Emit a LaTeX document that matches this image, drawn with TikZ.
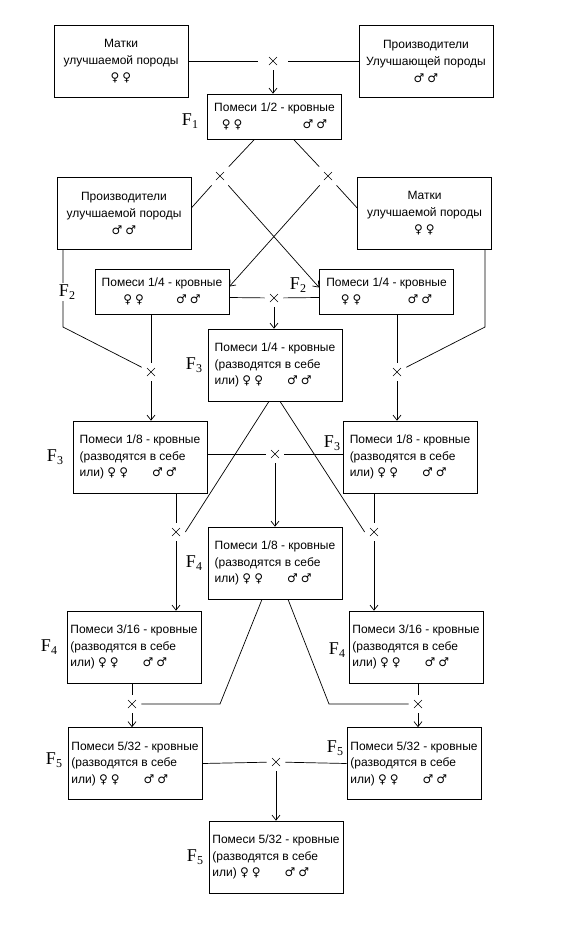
\documentclass[tikz,border=0pt]{standalone}
\usepackage{fontspec}
\setmainfont{Liberation Sans}
\newfontfamily\gsymfont{DejaVu Sans}
\newfontfamily\gserif{Liberation Serif}
\usetikzlibrary{arrows.meta}

\newcommand{\samki}{{\gsymfont\fontsize{12}{12}\selectfont ♀\kern3pt♀}}
\newcommand{\samcy}{{\gsymfont\fontsize{12}{12}\selectfont ♂\kern3pt♂}}
\newcommand{\Fgen}[1]{{\gserif\fontsize{18}{18}\selectfont F\raisebox{-3pt}{\fontsize{12}{12}\selectfont #1}}}

\begin{document}
\begin{tikzpicture}[
		x=1pt, y=-1pt,
		line width=0.7pt,
		>={Straight Barb[length=5pt,width=8pt]},
		pbox/.style={draw, rectangle, align=center, minimum width=134, minimum height=72,
			inner sep=0pt, font=\fontsize{12}{17}\selectfont},
		hbox/.style={draw, rectangle, align=center, minimum width=134, minimum height=45,
			inner sep=0pt, font=\fontsize{12}{17}\selectfont},
		fbox/.style={draw, rectangle, align=left, minimum width=134, minimum height=72,
			inner sep=0pt, font=\fontsize{12}{16.5}\selectfont},
		xx/.style={rectangle, minimum size=18, inner sep=0pt,
			path picture={\draw[line width=0.6pt] (-4pt,-4pt) -- (4pt,4pt) (-4pt,4pt) -- (4pt,-4pt);}},
		gen/.style={inner sep=2pt},
%		gen/.style={fill=white, inner sep=2pt},
		]
		\useasboundingbox (0,0) rectangle (562,938);

		% parents
		\node[pbox] (matkiA) at (121,61) {Матки\\улучшаемой породы\\\samki};
		\node[pbox] (proizB) at (426,61) {Производители\\Улучшающей породы\\\samcy};
		\node[xx] (xA) at (273,61) {};
		\node[hbox] (f1) at (274.5,116.5) {Помеси 1/2 - кровные\\\samki\hspace{60pt}\samcy};
		\node[gen] (g1) at (190,121) {\Fgen{1}};

		\node[xx] (x1) at (220,176) {};
		\node[xx] (x2) at (328,176) {};
		\node[pbox] (proizC) at (124,213) {Производители\\улучшаемой породы\\\samcy};
		\node[pbox] (matkiD) at (424.5,213) {Матки\\улучшаемой породы\\\samki};

		\node[hbox] (f2a) at (162,291.5) {Помеси 1/4 - кровные\\\samki\hspace{32pt}\samcy};
		\node[hbox] (f2b) at (386.5,291.5) {Помеси 1/4 - кровные\\\samki\hspace{46pt}\samcy};
		\node[xx] (x2m) at (274,298) {};
		\node[gen] (g2b) at (298,285) {\Fgen{2}};

		\node[fbox] (f3) at (275,365) {Помеси 1/4 - кровные\\(разводятся в себе\\или) \samki\hspace{24pt}\samcy};
		\node[gen] (g3) at (194,365) {\Fgen{3}};
		\node[xx] (x3a) at (151,372) {};
		\node[xx] (x3b) at (397,372) {};

		\node[fbox] (f3a) at (140,457) {Помеси 1/8 - кровные\\(разводятся в себе\\или) \samki\hspace{24pt}\samcy};
		\node[fbox] (f3b) at (410,457) {Помеси 1/8 - кровные\\(разводятся в себе\\или) \samki\hspace{24pt}\samcy};
		\node[gen] (g3a) at (55,457) {\Fgen{3}};
		\node[gen] (g3b) at (332,443) {\Fgen{3}};
		\node[xx] (x3m) at (275,454) {};

		\node[xx] (x4a) at (176,532) {};
		\node[xx] (x4b) at (374,532) {};
		\node[fbox] (f4) at (275,563) {Помеси 1/8 - кровные\\(разводятся в себе\\или) \samki\hspace{24pt}\samcy};
		\node[gen] (g4) at (194,563) {\Fgen{4}};

		\node[fbox] (f4a) at (134,647) {Помеси 3/16 - кровные\\(разводятся в себе\\или) \samki\hspace{24pt}\samcy};
		\node[fbox] (f4b) at (416,647) {Помеси 3/16 - кровные\\(разводятся в себе\\или) \samki\hspace{24pt}\samcy};
		\node[gen] (g4a) at (49,647) {\Fgen{4}};
		\node[gen] (g4b) at (337,650) {\Fgen{4}};

		\node[xx] (x5a) at (132,704) {};
		\node[xx] (x5b) at (418,704) {};
		\node[fbox] (f5a) at (135,763.5) {Помеси 5/32 - кровные\\(разводятся в себе\\или) \samki\hspace{24pt}\samcy};
		\node[fbox] (f5b) at (414,763.5) {Помеси 5/32 - кровные\\(разводятся в себе\\или) \samki\hspace{24pt}\samcy};
		\node[gen] (g5a) at (54,760) {\Fgen{5}};
		\node[gen] (g5b) at (335,748) {\Fgen{5}};
		\node[xx] (x5m) at (276,762) {};

		\node[fbox] (f5) at (276,857) {Помеси 5/32 - кровные\\(разводятся в себе\\или) \samki\hspace{24pt}\samcy};
		\node[gen] (g5) at (195,857) {\Fgen{5}};

		\coordinate (kL) at (63,327);
		\coordinate (kR) at (485,327);
		\coordinate (lL) at (220,704);
		\coordinate (lR) at (329,704);

		% crossings
		\draw[shorten >=6pt] (matkiA.east) -- (xA);
		\draw[shorten <=6pt] (xA) -- (proizB.west);
		\draw[->] (xA) -- (xA |- f1.north);
		\draw ([xshift=-20pt]f1.south) -- (x1);
		\draw ([xshift=19pt]f1.south) -- (x2);
		\draw (x1) -- ([yshift=5pt]proizC.east);
		\draw (x2) -- ([yshift=5pt]matkiD.west);
		\draw[->] (x1) -- ([yshift=4pt]f2b.west);
		\draw[->] (x2) -- ([yshift=5pt]f2a.east);
		\draw ([yshift=-6pt]f2a.east) -- (x2m);
		\draw (x2m) -- ([yshift=-6pt]f2b.west);
		\draw[->] (x2m) -- (x2m |- f3.north);

		\draw (proizC.south -| kL) -- (kL) -- (x3a);
		\draw (matkiD.south -| kR) -- (kR) -- (x3b);
		\draw (x3a |- f2a.south) -- (x3a);
		\draw (x3b |- f2b.south) -- (x3b);
		\draw[->] (x3a) -- (x3a |- f3a.north);
		\draw[->] (x3b) -- (x3b |- f3b.north);
		\node[gen, fill=white] (g2a) at (67,292) {\Fgen{2}};

		\draw ([yshift=3pt]f3a.east) -- (x3m);
		\draw (x3m) -- ([yshift=3pt]f3b.west);
		\draw[->] (x3m) -- (x3m |- f4.north);
		\draw ([xshift=-6pt]f3.south) -- (x4a.east);
		\draw ([xshift=5pt]f3.south) -- (x4b.west);
		\draw (x4a |- f3a.south) -- (x4a);
		\draw (x4b |- f3b.south) -- (x4b);
		\draw[->] (x4a) -- (x4a |- f4a.north);
		\draw[->] (x4b) -- (x4b |- f4b.north);

		\draw ([xshift=-13pt]f4.south) -- (lL) -- (x5a);
		\draw ([xshift=13pt]f4.south) -- (lR) -- (x5b);
		\draw (x5a |- f4a.south) -- (x5a);
		\draw (x5b |- f4b.south) -- (x5b);
		\draw[->] (x5a) -- (x5a |- f5a.north);
		\draw[->] (x5b) -- (x5b |- f5b.north);
		\draw (f5a.east) -- (x5m);
		\draw (x5m) -- (f5b.west);
		\draw[->] (x5m) -- (x5m |- f5.north);
\end{tikzpicture}
\end{document}
